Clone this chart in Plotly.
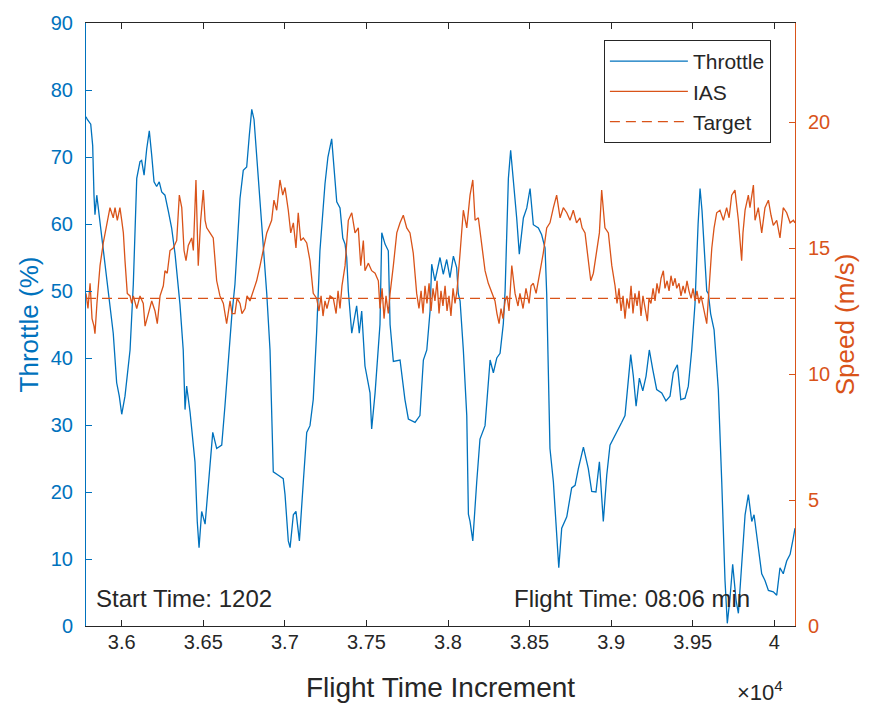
import plotly.graph_objects as go

BLUE = "#0072BD"
ORANGE = "#D95319"
DARK = "#262626"
FONT = "Liberation Sans, Arial, sans-serif"

# Throttle (%) vs flight time increment
throttle_x = [35781, 35789, 35810, 35822, 35830, 35836, 35847, 35856, 35867, 35887, 35918, 35948,
              35969, 35985, 36000, 36020, 36051, 36071, 36092, 36112, 36122, 36137, 36153, 36169,
              36184, 36198, 36214, 36230, 36245, 36265, 36286, 36306, 36327, 36347, 36357, 36377,
              36388, 36398, 36419, 36449, 36463, 36474, 36490, 36511, 36531, 36558, 36582, 36613,
              36633, 36653, 36674, 36694, 36725, 36745, 36766, 36782, 36797, 36811, 36827, 36848,
              36868, 36889, 36909, 36929, 36960, 36990, 37001, 37021, 37032, 37052, 37068, 37089,
              37113, 37134, 37154, 37174, 37195, 37215, 37246, 37264, 37287, 37307, 37318, 37338,
              37355, 37369, 37379, 37389, 37410, 37440, 37456, 37471, 37491, 37522, 37532, 37553,
              37583, 37594, 37614, 37634, 37645, 37665, 37706, 37736, 37757, 37798, 37828, 37849,
              37870, 37890, 37900, 37920, 37951, 37971, 37992, 38012, 38033, 38053, 38063, 38074,
              38094, 38115, 38125, 38135, 38152, 38176, 38196, 38227, 38247, 38258, 38278, 38299,
              38319, 38339, 38350, 38370, 38384, 38400, 38421, 38437, 38462, 38483, 38503, 38523,
              38554, 38574, 38595, 38605, 38625, 38646, 38666, 38679, 38697, 38728, 38758, 38779,
              38799, 38830, 38860, 38881, 38907, 38928, 38952, 38973, 38993, 39024, 39044, 39065,
              39085, 39105, 39120, 39136, 39153, 39173, 39194, 39214, 39234, 39255, 39279, 39310,
              39336, 39361, 39381, 39406, 39427, 39453, 39473, 39494, 39514, 39533, 39545, 39557,
              39586, 39596, 39610, 39631, 39643, 39657, 39678, 39698, 39712, 39729, 39745, 39766,
              39780, 39800, 39821, 39841, 39862, 39876, 39896, 39923, 39943, 39964, 39994, 40015,
              40035, 40055, 40076, 40097, 40117, 40127]
throttle_y = [76.0, 75.6, 74.9, 71.7, 64.3, 61.4, 64.3, 62.4, 59.9, 56.5, 49.6, 43.7,
              36.3, 34.3, 31.6, 34.3, 41.2, 51.0, 66.8, 69.3, 69.5, 67.3, 71.2, 73.9,
              70.2, 66.3, 65.6, 66.3, 64.8, 64.3, 61.9, 59.4, 55.5, 50.6, 48.0, 41.2,
              32.3, 35.8, 31.9, 24.5, 15.6, 11.7, 17.1, 15.2, 20.6, 28.9, 26.5, 27.0,
              32.9, 39.7, 46.1, 51.0, 63.8, 68.0, 68.5, 73.2, 77.1, 75.6, 70.2, 62.9,
              55.5, 49.6, 41.2, 23.0, 22.5, 22.0, 19.6, 12.7, 11.7, 16.6, 17.1, 12.7,
              21.5, 28.9, 29.9, 33.8, 44.0, 56.0, 66.0, 70.0, 72.7, 66.8, 63.3, 62.4,
              57.9, 57.0, 55.0, 50.0, 43.7, 47.8, 43.7, 47.0, 38.8, 34.8, 29.4, 34.8,
              45.0, 58.7, 57.0, 56.0, 45.0, 39.5, 39.7, 33.8, 30.9, 30.4, 31.4, 39.7,
              41.2, 47.0, 54.0, 51.5, 55.0, 52.5, 54.7, 52.0, 55.2, 53.5, 49.6, 48.5,
              41.2, 31.4, 16.7, 15.6, 12.7, 21.5, 27.9, 29.9, 36.3, 39.7, 37.8, 40.0,
              40.7, 45.1, 50.0, 66.8, 71.0, 66.8, 60.9, 55.5, 60.9, 62.4, 65.3, 59.9,
              59.4, 58.4, 56.4, 49.6, 26.5, 21.5, 14.2, 8.7, 14.6, 16.3, 20.6, 21.0,
              23.5, 26.7, 23.5, 20.1, 20.0, 24.5, 15.6, 22.5, 27.0, 28.4, 29.4, 30.4,
              31.4, 37.3, 40.5, 37.3, 32.8, 37.0, 35.1, 37.3, 41.2, 38.3, 35.3, 34.8,
              33.6, 34.3, 37.8, 39.0, 33.8, 34.0, 35.8, 41.2, 48.1, 60.0, 65.3, 62.0,
              50.0, 49.6, 46.6, 44.2, 40.7, 35.3, 21.5, 6.8, 0.4, 4.3, 9.2, 3.8,
              1.9, 9.2, 16.6, 19.6, 15.6, 16.6, 12.7, 7.8, 6.8, 5.3, 5.1, 4.6,
              8.7, 7.8, 9.7, 10.7, 13.2, 14.6]

# Indicated air speed (m/s)
ias_x = [35781, 35793, 35806, 35818, 35830, 35836, 35848, 35867, 35887, 35908, 35928, 35948,
         35959, 35973, 35989, 36000, 36010, 36020, 36034, 36051, 36061, 36071, 36092, 36112,
         36132, 36143, 36163, 36184, 36204, 36218, 36235, 36255, 36265, 36279, 36296, 36316,
         36337, 36353, 36368, 36382, 36394, 36408, 36429, 36439, 36455, 36469, 36484, 36500,
         36511, 36521, 36541, 36561, 36582, 36602, 36623, 36643, 36664, 36676, 36694, 36707,
         36725, 36737, 36756, 36768, 36786, 36807, 36827, 36848, 36868, 36889, 36919, 36933,
         36950, 36970, 36987, 37001, 37021, 37036, 37052, 37068, 37082, 37097, 37113, 37134,
         37154, 37174, 37195, 37209, 37222, 37234, 37246, 37258, 37277, 37297, 37314, 37326,
         37338, 37350, 37369, 37389, 37410, 37430, 37450, 37465, 37481, 37491, 37512, 37532,
         37553, 37573, 37583, 37596, 37608, 37620, 37634, 37645, 37665, 37686, 37706, 37726,
         37747, 37767, 37787, 37808, 37822, 37835, 37847, 37859, 37871, 37884, 37896, 37908,
         37920, 37933, 37945, 37957, 37969, 37982, 37994, 38006, 38018, 38031, 38043, 38055,
         38074, 38094, 38115, 38135, 38152, 38166, 38186, 38207, 38227, 38247, 38268, 38288,
         38300, 38313, 38325, 38337, 38350, 38362, 38374, 38391, 38411, 38429, 38441, 38460,
         38478, 38497, 38509, 38523, 38540, 38564, 38584, 38605, 38625, 38646, 38666, 38687,
         38707, 38728, 38748, 38768, 38788, 38809, 38822, 38840, 38860, 38875, 38891, 38912,
         38928, 38942, 38962, 38983, 39004, 39024, 39036, 39048, 39061, 39073, 39085, 39097,
         39110, 39122, 39134, 39146, 39159, 39171, 39183, 39195, 39208, 39222, 39232, 39244,
         39257, 39269, 39281, 39293, 39306, 39320, 39330, 39343, 39355, 39367, 39379, 39392,
         39402, 39416, 39428, 39441, 39453, 39465, 39477, 39490, 39502, 39514, 39526, 39539,
         39551, 39563, 39575, 39586, 39594, 39606, 39617, 39631, 39647, 39667, 39688, 39708,
         39723, 39739, 39759, 39780, 39800, 39808, 39821, 39841, 39851, 39872, 39882, 39902,
         39923, 39943, 39964, 39980, 39994, 40015, 40035, 40055, 40076, 40097, 40117, 40127]
ias_y = [13.2, 12.6, 13.6, 12.2, 11.9, 11.6, 12.8, 14.3, 15.2, 16.0, 16.6, 16.2,
         16.6, 16.1, 16.6, 16.1, 15.6, 14.5, 13.2, 13.1, 12.8, 13.1, 12.6, 13.1,
         12.8, 11.9, 12.4, 12.9, 12.5, 12.0, 13.1, 13.5, 14.1, 14.0, 14.9, 15.0,
         15.3, 17.1, 16.6, 14.9, 14.5, 15.1, 15.4, 14.9, 17.7, 14.3, 16.1, 17.3,
         16.1, 15.8, 15.6, 15.4, 13.7, 13.1, 12.8, 12.0, 12.9, 12.4, 12.4, 13.0,
         12.8, 12.4, 12.6, 13.1, 12.9, 13.3, 13.7, 14.3, 14.9, 15.6, 16.1, 16.9,
         16.5, 17.7, 17.1, 17.4, 16.5, 15.6, 16.0, 15.0, 16.4, 15.3, 15.4, 15.2,
         14.5, 13.2, 13.0, 12.5, 13.1, 12.3, 12.9, 12.6, 13.1, 13.0, 12.4, 13.3,
         12.6, 13.5, 14.3, 16.1, 16.4, 15.6, 15.8, 14.3, 15.3, 14.1, 14.4, 14.1,
         14.0, 13.7, 12.6, 13.4, 12.2, 13.1, 12.4, 13.2, 14.3, 15.6, 16.0, 16.3,
         15.8, 15.6, 14.8, 13.2, 12.6, 13.3, 12.4, 13.5, 12.8, 13.6, 12.5, 13.4,
         12.9, 13.7, 12.4, 13.3, 12.7, 13.5, 12.5, 13.1, 12.3, 13.4, 12.8, 13.3,
         14.8, 16.5, 15.8, 17.1, 17.7, 16.1, 16.2, 15.2, 14.1, 13.6, 13.2, 12.9,
         12.4, 12.0, 12.6, 12.2, 12.9, 13.1, 12.5, 14.3, 13.2, 12.7, 13.2, 12.6,
         13.4, 12.8, 13.5, 13.6, 13.2, 14.1, 14.8, 15.8, 16.0, 16.6, 17.1, 16.2,
         16.6, 16.4, 16.1, 16.5, 16.0, 16.2, 15.8, 15.6, 14.5, 13.7, 14.0, 14.9,
         15.6, 17.3, 15.8, 15.6, 14.3, 13.5, 12.8, 13.4, 12.5, 13.1, 12.2, 13.0,
         12.6, 13.5, 12.4, 13.2, 12.7, 13.3, 12.3, 13.1, 12.6, 12.1, 13.0, 12.8,
         13.4, 12.9, 13.6, 13.2, 13.8, 14.1, 13.4, 13.7, 13.3, 13.9, 13.5, 13.8,
         13.4, 13.6, 13.1, 13.5, 13.2, 13.7, 13.3, 13.0, 13.4, 12.9, 13.3, 12.8,
         13.1, 12.7, 12.3, 12.0, 12.8, 14.2, 15.0, 15.8, 16.4, 16.5, 16.1, 16.6,
         16.2, 17.1, 17.3, 16.1, 14.5, 15.6, 16.5, 17.1, 16.6, 17.5, 16.1, 16.6,
         15.6, 16.6, 16.9, 16.3, 15.9, 16.1, 15.4, 16.6, 16.4, 16.0, 16.1, 16.0]

target_x = [35781, 40127]
target_y = [13, 13]

x_range = [35781, 40127]
x_ticks = [36000, 36500, 37000, 37500, 38000, 38500, 39000, 39500, 40000]
x_ticklabels = ["3.6", "3.65", "3.7", "3.75", "3.8", "3.85", "3.9", "3.95", "4"]
left_ticks = [0, 10, 20, 30, 40, 50, 60, 70, 80, 90]
right_ticks = [0, 5, 10, 15, 20]

fig = go.Figure()
fig.add_trace(go.Scatter(x=throttle_x, y=throttle_y, mode="lines", name="Throttle",
                         line=dict(color=BLUE, width=1.3), yaxis="y"))
fig.add_trace(go.Scatter(x=ias_x, y=ias_y, mode="lines", name="IAS",
                         line=dict(color=ORANGE, width=1.3), yaxis="y2"))
fig.add_trace(go.Scatter(x=target_x, y=target_y, mode="lines", name="Target",
                         line=dict(color=ORANGE, width=1.3, dash="10px,6px"), yaxis="y2"))

fig.update_layout(
    width=879, height=710,
    margin=dict(l=86, r=84, t=17, b=84),
    paper_bgcolor="white", plot_bgcolor="white",
    font=dict(family=FONT, size=20, color=DARK),
    showlegend=True,
    legend=dict(x=0.966, y=0.972, xanchor="right", yanchor="top",
                bgcolor="white", bordercolor=DARK, borderwidth=1, itemwidth=78,
                font=dict(size=21, color=DARK), tracegroupgap=0),
    xaxis=dict(range=x_range, tickvals=x_ticks, ticktext=x_ticklabels,
               showgrid=False, zeroline=False, showline=True, linecolor=DARK, linewidth=1,
               mirror="ticks", ticks="inside", ticklen=6, tickcolor=DARK,
               tickfont=dict(size=20, color=DARK), ticklabelstandoff=-2,
               title=dict(text="Flight Time Increment", font=dict(size=28, color=DARK), standoff=25)),
    yaxis=dict(range=[0, 90], tickvals=left_ticks, showgrid=False, zeroline=False,
               showline=True, linecolor=BLUE, linewidth=1, ticks="inside", ticklen=6,
               tickcolor=BLUE, tickfont=dict(size=20, color=BLUE), ticklabelstandoff=8,
               title=dict(text="Throttle (%)", font=dict(size=26, color=BLUE), standoff=4)),
    yaxis2=dict(range=[0, 23.93], tickvals=right_ticks, overlaying="y", side="right",
                showgrid=False, zeroline=False, showline=True, linecolor=ORANGE, linewidth=1,
                ticks="inside", ticklen=6, tickcolor=ORANGE,
                tickfont=dict(size=20, color=ORANGE), ticklabelstandoff=8,
                title=dict(text="Speed (m/s)", font=dict(size=26, color=ORANGE), standoff=6)),
    annotations=[
        dict(text="Start Time: 1202", xref="paper", yref="paper", x=0.011, y=0.046,
             xanchor="left", yanchor="middle", showarrow=False,
             font=dict(size=24, color=DARK)),
        dict(text="Flight Time: 08:06 min", xref="paper", yref="paper", x=0.939, y=0.046,
             xanchor="right", yanchor="middle", showarrow=False,
             font=dict(size=24, color=DARK)),
        dict(text="×10<sup>4</sup>", xref="paper", yref="paper", x=0.916, y=-0.108,
             xanchor="left", yanchor="middle", showarrow=False,
             font=dict(size=22, color=DARK)),
    ],
)

fig.write_html("out.html")
